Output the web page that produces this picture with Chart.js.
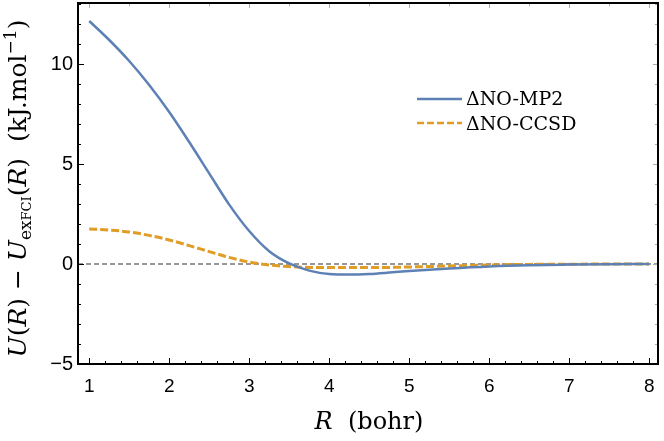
<!DOCTYPE html>
<html>
<head>
<meta charset="utf-8">
<script src="https://cdn.jsdelivr.net/npm/chart.js@4.4.1/dist/chart.umd.min.js"></script>
<style>
  html, body { margin: 0; padding: 0; background: #fff; }
  #wrap { width: 664px; height: 441px; position: relative; }
</style>
</head>
<body>
<div id="wrap"><canvas id="myChart" width="664" height="441"></canvas></div>
<script>
// bond length R (bohr)
const rValues = [1.0, 1.25, 1.5, 1.75, 2.0, 2.25, 2.5, 2.75, 3.0, 3.25, 3.5, 3.75, 4.0, 4.25, 4.5, 4.75, 5.0, 5.5, 6.0, 6.5, 7.0, 7.5, 8.0];
// U(R) - U_exFCI(R), kJ/mol
const mp2Values = [12.15, 11.2, 10.15, 8.95, 7.6, 6.1, 4.53, 2.97, 1.65, 0.64, 0.03, -0.33, -0.5, -0.53, -0.5, -0.43, -0.35, -0.22, -0.12, -0.06, -0.03, -0.01, 0];
const ccsdValues = [1.75, 1.7, 1.6, 1.43, 1.2, 0.92, 0.62, 0.33, 0.1, -0.05, -0.13, -0.17, -0.18, -0.18, -0.18, -0.17, -0.15, -0.1, -0.05, -0.02, -0.01, 0, 0];
const seriesNames = ['\u0394NO-MP2', '\u0394NO-CCSD'];
const xTicks = [1, 2, 3, 4, 5, 6, 7, 8];
const yTicks = [-5, 0, 5, 10];

const xMin = 0.86, xMax = 8.11, yMin = -5, yMax = 13.05;
const blue = '#5e81b5';
const orange = '#e09c24';
const serif = '"DejaVu Serif", serif';

function pts(vals) {
  return rValues.map((r, i) => ({ x: r, y: vals[i] }));
}

// frame, inward ticks, legend, axis titles (Mathematica look)
const framePlugin = {
  id: 'frame',
  afterDraw(chart) {
    const ctx = chart.ctx;
    const a = chart.chartArea;
    const xs = chart.scales.x, ys = chart.scales.y;
    ctx.save();
    // minor / major ticks
    ctx.strokeStyle = '#000';
    ctx.lineWidth = 1;
    for (let v = 1; v <= 8.001; v += 0.2) {
      const px = Math.round(xs.getPixelForValue(v)) + 0.5;
      const major = Math.abs(v - Math.round(v)) < 0.01;
      ctx.beginPath();
      ctx.moveTo(px, a.bottom);
      ctx.lineTo(px, a.bottom - (major ? 6 : 3));
      ctx.stroke();
    }
    for (let v = -5; v <= 13; v += 1) {
      const py = Math.round(ys.getPixelForValue(v)) + 0.5;
      const major = v % 5 === 0;
      ctx.beginPath();
      ctx.moveTo(a.left, py);
      ctx.lineTo(a.left + (major ? 6 : 3), py);
      ctx.stroke();
    }
    ctx.strokeStyle = '#aaa';
    for (let v = 1; v <= 8.001; v += 0.5) {
      const px = Math.round(xs.getPixelForValue(v)) + 0.5;
      ctx.beginPath();
      ctx.moveTo(px, a.top);
      ctx.lineTo(px, a.top + (Number.isInteger(v) ? 5 : 3));
      ctx.stroke();
    }
    for (let v = -5; v <= 13; v += 1) {
      const py = Math.round(ys.getPixelForValue(v)) + 0.5;
      ctx.beginPath();
      ctx.moveTo(a.right, py);
      ctx.lineTo(a.right - (v % 5 === 0 ? 5 : 3), py);
      ctx.stroke();
    }
    // frame
    ctx.strokeStyle = '#000';
    ctx.lineWidth = 2;
    ctx.strokeRect(a.left, a.top, a.right - a.left, a.bottom - a.top);

    // legend
    ctx.lineWidth = 2.5;
    ctx.strokeStyle = blue;
    ctx.beginPath(); ctx.moveTo(417, 99); ctx.lineTo(462, 99); ctx.stroke();
    ctx.strokeStyle = orange;
    ctx.setLineDash([7, 3]);
    ctx.beginPath(); ctx.moveTo(417, 123); ctx.lineTo(462, 123); ctx.stroke();
    ctx.setLineDash([]);
    ctx.fillStyle = '#000';
    ctx.font = '19px ' + serif;
    ctx.textBaseline = 'alphabetic';
    ctx.textAlign = 'left';
    ctx.fillText(seriesNames[0], 466, 105);
    ctx.fillText(seriesNames[1], 466, 130);

    // x title
    const xt = [
      { t: 'R', f: 'italic 24px ' + serif },
      { t: '  (bohr)', f: '24px ' + serif }
    ];
    drawRich(ctx, xt, (a.left + a.right) / 2 + 1, 429);

    // y title
    const yt = [
      { t: 'U', f: 'italic 25px ' + serif },
      { t: '(', f: '25px ' + serif },
      { t: 'R', f: 'italic 25px ' + serif },
      { t: ') \u2212 ', f: '25px ' + serif },
      { t: 'U', f: 'italic 25px ' + serif },
      { t: 'ex', f: '17px ' + serif, dy: 5 },
      { t: 'FCI', f: '13px ' + serif, dy: 5 },
      { t: '(', f: '25px ' + serif },
      { t: 'R', f: 'italic 25px ' + serif },
      { t: ')  (kJ.mol', f: '25px ' + serif },
      { t: '\u22121', f: '17px ' + serif, dy: -10 },
      { t: ')', f: '25px ' + serif }
    ];
    ctx.translate(26, (a.top + a.bottom) / 2 + 5);
    ctx.rotate(-Math.PI / 2);
    drawRich(ctx, yt, 0, 0);
    ctx.restore();
  }
};

function drawRich(ctx, parts, cx, baseY) {
  let w = 0;
  parts.forEach(p => { ctx.font = p.f; w += ctx.measureText(p.t).width; });
  let x = cx - w / 2;
  ctx.textAlign = 'left';
  ctx.textBaseline = 'alphabetic';
  ctx.fillStyle = '#000';
  parts.forEach(p => {
    ctx.font = p.f;
    ctx.fillText(p.t, x, baseY + (p.dy || 0));
    x += ctx.measureText(p.t).width;
  });
}

const chart = new Chart(document.getElementById('myChart'), {
  type: 'line',
  data: {
    datasets: [
      {
        label: seriesNames[0],
        data: pts(mp2Values),
        borderColor: blue,
        borderWidth: 2.5,
        pointRadius: 0,
        cubicInterpolationMode: 'monotone',
        fill: false
      },
      {
        label: seriesNames[1],
        data: pts(ccsdValues),
        borderColor: orange,
        borderWidth: 3,
        borderDash: [8, 3],
        pointRadius: 0,
        cubicInterpolationMode: 'monotone',
        fill: false
      },
      {
        label: 'zero',
        data: [{ x: xMin, y: 0 }, { x: xMax, y: 0 }],
        borderColor: '#333',
        borderWidth: 1.2,
        borderDash: [5, 3],
        pointRadius: 0,
        fill: false,
        order: 5
      }
    ]
  },
  options: {
    responsive: false,
    animation: false,
    layout: { padding: { top: 3, right: 6, left: 0, bottom: 0 } },
    plugins: {
      legend: { display: false },
      tooltip: { enabled: false }
    },
    scales: {
      x: {
        type: 'linear',
        min: xMin,
        max: xMax,
        afterBuildTicks: s => { s.ticks = xTicks.map(v => ({ value: v })); },
        afterFit: s => { s.height = 77; s.paddingLeft = 0; s.paddingRight = 0; },
        grid: { display: false, drawTicks: false },
        border: { display: false },
        ticks: {
          color: '#000',
          padding: 11,
          font: { family: '"Liberation Sans", Arial, sans-serif', size: 19 },
          maxRotation: 0
        }
      },
      y: {
        type: 'linear',
        min: yMin,
        max: yMax,
        afterBuildTicks: s => { s.ticks = yTicks.map(v => ({ value: v })); },
        afterFit: s => { s.width = 78; s.paddingTop = 0; s.paddingBottom = 0; },
        grid: { display: false, drawTicks: false },
        border: { display: false },
        ticks: {
          color: '#000',
          padding: 5,
          font: { family: '"Liberation Sans", Arial, sans-serif', size: 20 },
          callback: v => (v < 0 ? '\u2212' + Math.abs(v) : String(v))
        }
      }
    }
  },
  plugins: [framePlugin]
});
</script>
</body>
</html>
